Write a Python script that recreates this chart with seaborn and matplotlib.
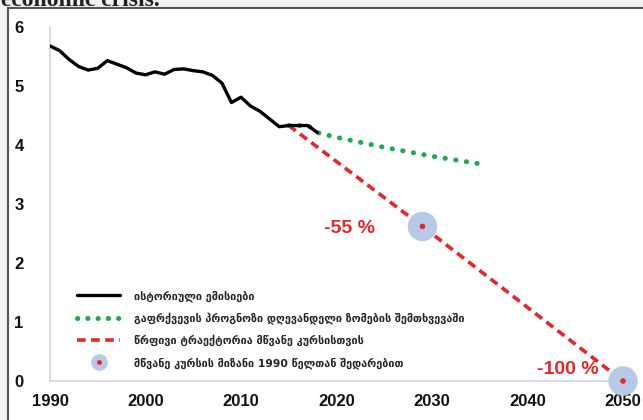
import matplotlib
matplotlib.use("Agg")
import matplotlib.pyplot as plt
import pandas as pd
import seaborn as sns
from matplotlib.lines import Line2D
from matplotlib.patches import Rectangle
from matplotlib.legend_handler import HandlerTuple

# Historical emissions
hist_years = list(range(1990, 2019))
hist_values = [5.68, 5.60, 5.45, 5.33, 5.27, 5.30, 5.43, 5.37, 5.31, 5.22,
               5.19, 5.24, 5.20, 5.28, 5.29, 5.26, 5.24, 5.18, 5.05, 4.72,
               4.81, 4.66, 4.57, 4.44, 4.31, 4.33, 4.33, 4.33, 4.21]
# Projection under current measures
proj_years = [2015, 2016, 2017, 2018, 2020, 2025, 2030, 2035]
proj_values = [4.33, 4.33, 4.33, 4.21, 4.13, 3.96, 3.81, 3.68]
# Linear path towards the green course
path_years = [2015, 2029, 2050]
path_values = [4.33, 2.62, 0.0]
# Targets relative to 1990
target_years = [2029, 2050]
target_values = [2.62, 0.0]
target_labels = ["-55 %", "-100 %"]

legend_labels = [
    "ისტორიული ემისიები",
    "გაფრქვევის პროგნოზი დღევანდელი ზომების შემთხვევაში",
    "წრფივი ტრაექტორია მწვანე კურსისთვის",
    "მწვანე კურსის მიზანი 1990 წელთან შედარებით",
]
x_ticks = [1990, 2000, 2010, 2020, 2030, 2040, 2050]
y_ticks = [0, 1, 2, 3, 4, 5, 6]

sns.set_style("white")
plt.rcParams["font.family"] = ["Liberation Sans", "DejaVu Sans"]

W, H = 643, 420
fig = plt.figure(figsize=(W / 100, H / 100), dpi=100)
fig.patch.set_facecolor("#f1f1f1")

# page text running above the panel
fig.text(1 / W, 1.0, "economic crisis.", family="Liberation Serif",
         fontsize=17, fontweight="bold", color="#222222", va="center", ha="left")
fig.patches.append(Rectangle((8 / W, -0.02), 650 / W, (H - 8) / H + 0.02,
                             transform=fig.transFigure, facecolor="white",
                             edgecolor="#555555", linewidth=1.5, zorder=0))

ax = fig.add_axes([50 / W, 1 - 381 / H, 573 / W, 354 / H])
ax.set_zorder(2)
ax.set_facecolor("none")

RED = "#e8262a"
GREEN = "#1faa4f"
BLUE = "#b7c9e6"

hist = pd.DataFrame({"year": hist_years, "value": hist_values})
proj = pd.DataFrame({"year": proj_years, "value": proj_values})
path = pd.DataFrame({"year": path_years, "value": path_values})
targ = pd.DataFrame({"year": target_years, "value": target_values})

sns.lineplot(data=path, x="year", y="value", ax=ax, color=RED, lw=2.6,
             zorder=3).lines[-1].set_dashes([2.4, 1.5])
l = sns.lineplot(data=proj, x="year", y="value", ax=ax, color=GREEN, lw=3.6,
                 zorder=3).lines[-1]
l.set_linestyle((0, (0.05, 2.1)))
l.set_dash_capstyle("round")
sns.lineplot(data=hist, x="year", y="value", ax=ax, color="black", lw=2.4,
             zorder=4)
sns.scatterplot(data=targ, x="year", y="value", ax=ax, s=450, color=BLUE,
                edgecolor="none", zorder=5, clip_on=False)
sns.scatterplot(data=targ, x="year", y="value", ax=ax, s=16, color=RED,
                edgecolor="none", zorder=6, clip_on=False)

for xo, yo, txt in [(2021.4, 2.59, target_labels[0]), (2044.2, 0.19, target_labels[1])]:
    ax.text(xo, yo, txt, color=RED, fontsize=14, fontweight="bold",
            ha="center", va="center")

ax.set_xlim(1990, 2050)
ax.set_ylim(0, 6)
ax.set_xticks(x_ticks)
ax.set_yticks(y_ticks)
ax.set_xlabel("")
ax.set_ylabel("")
for s in ["top", "right"]:
    ax.spines[s].set_visible(False)
for s in ["left", "bottom"]:
    ax.spines[s].set_color("#d6d6d6")
    ax.spines[s].set_linewidth(1.2)
ax.tick_params(axis="y", length=3, color="#d6d6d6", pad=16, labelsize=12)
ax.tick_params(axis="x", length=0, pad=9, labelsize=12)
for t in ax.get_xticklabels() + ax.get_yticklabels():
    t.set_fontweight("bold")
    t.set_color("#111111")

handles = [
    Line2D([], [], color="black", lw=2.4),
    Line2D([], [], color=GREEN, lw=3.6, linestyle=(0, (0.05, 2.0)),
           dash_capstyle="round"),
    Line2D([], [], color=RED, lw=2.6, dashes=[2.4, 1.5]),
    (Line2D([], [], ls="none", marker="o", ms=12, mfc=BLUE, mec="none"),
     Line2D([], [], ls="none", marker="o", ms=3.5, mfc=RED, mec="none")),
]
leg = ax.legend(handles, legend_labels, loc="upper left",
                bbox_to_anchor=(77 / W, 1 - 290 / H), bbox_transform=fig.transFigure,
                frameon=False, handlelength=4.0, handletextpad=1.3,
                labelspacing=0.98, borderaxespad=0, borderpad=0,
                handler_map={tuple: HandlerTuple(ndivide=1, pad=0)},
                prop={"family": "DejaVu Sans", "weight": "bold", "size": 7.8})

fig.savefig("out.png", dpi=100, facecolor=fig.get_facecolor())
